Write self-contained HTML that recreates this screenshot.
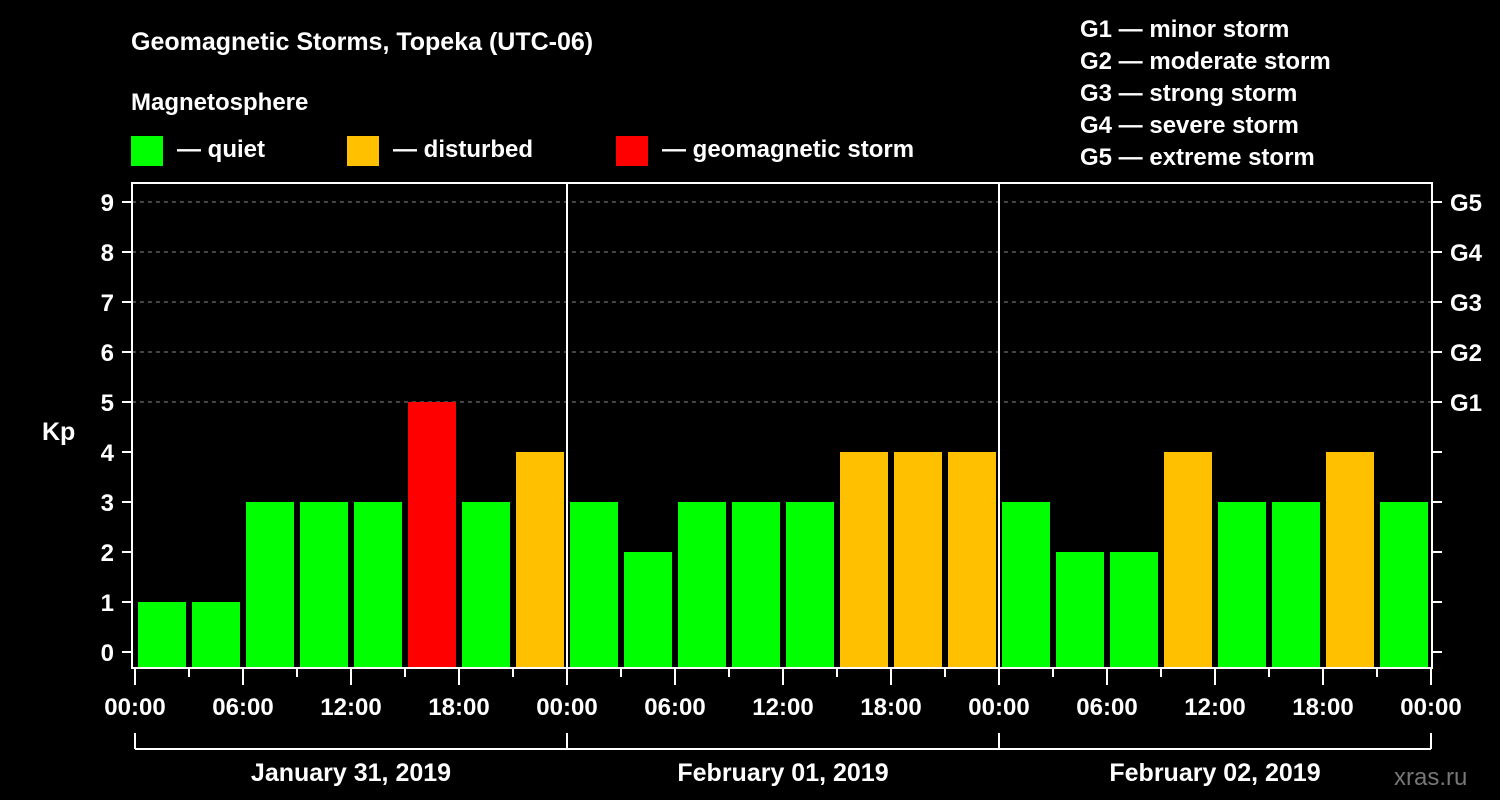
<!DOCTYPE html>
<html><head><meta charset="utf-8"><style>
body{margin:0;background:#000;}
svg{display:block;font-family:"Liberation Sans",Arial,sans-serif;font-weight:bold;}
</style></head><body>
<svg id="c" width="1500" height="800" viewBox="0 0 1500 800">
<rect width="1500" height="800" fill="#000"/>
<text x="131" y="50" font-size="25" fill="#fff">Geomagnetic Storms, Topeka (UTC-06)</text>
<text x="131" y="110" font-size="24" fill="#fff">Magnetosphere</text>
<g><rect x="131" y="136" width="32" height="30" fill="#00ff00"/><text x="177" y="157" font-size="24" fill="#fff">— quiet</text></g>
<g><rect x="347" y="136" width="32" height="30" fill="#ffc000"/><text x="393" y="157" font-size="24" fill="#fff">— disturbed</text></g>
<g><rect x="616" y="136" width="32" height="30" fill="#ff0000"/><text x="662" y="157" font-size="24" fill="#fff">— geomagnetic storm</text></g>
<g font-size="24" fill="#fff">
<text x="1080" y="37">G1 — minor storm</text><text x="1080" y="69">G2 — moderate storm</text><text x="1080" y="101">G3 — strong storm</text><text x="1080" y="133">G4 — severe storm</text><text x="1080" y="165">G5 — extreme storm</text></g>
<text x="42" y="440" font-size="25" fill="#fff">Kp</text>
<text x="1394" y="785" font-size="24" fill="#777" font-weight="normal">xras.ru</text>
<g id="grid"></g><g id="bars"></g><g id="axes"></g>
</svg>
<script>
const kpValues=[1,1,3,3,3,5,3,4, 3,2,3,3,3,4,4,4, 3,2,2,4,3,3,4,3];
const yTicks=[0,1,2,3,4,5,6,7,8,9];
const gLabels=["G1","G2","G3","G4","G5"];
const timeLabels=["00:00","06:00","12:00","18:00","00:00","06:00","12:00","18:00","00:00","06:00","12:00","18:00","00:00"];
const dayLabels=["January 31, 2019","February 01, 2019","February 02, 2019"];
const NS="http://www.w3.org/2000/svg";
const X0=135,STEP=54,Y0=652,YU=50,TOP=183,BOT=668,LEFT=132,RIGHT=1432;
const x=i=>X0+i*STEP, y=v=>Y0-v*YU;
function mk(p,t,a){const e=document.createElementNS(NS,t);for(const k in a)e.setAttribute(k,a[k]);p.appendChild(e);return e;}
const grid=document.getElementById('grid'),bars=document.getElementById('bars'),axes=document.getElementById('axes');
yTicks.forEach(v=>{if(v>=5){const l=mk(grid,'line',{x1:LEFT,x2:RIGHT,y1:y(v),y2:y(v),stroke:'#888','stroke-dasharray':'4,4','stroke-width':1});

}});
kpValues.forEach((v,i)=>{const c=v>=5?'#ff0000':v>=4?'#ffc000':'#00ff00';
const r=mk(bars,'rect',{x:x(i)+3,y:y(v),width:48,height:BOT-y(v),fill:c});

});
mk(axes,'rect',{x:LEFT,y:TOP,width:RIGHT-LEFT,height:BOT-TOP,fill:'none',stroke:'#fff','stroke-width':2});
[8,16].forEach(i=>mk(axes,'line',{x1:x(i),x2:x(i),y1:TOP,y2:BOT,stroke:'#fff','stroke-width':2}));
yTicks.forEach(v=>{mk(axes,'line',{x1:122,x2:LEFT,y1:y(v),y2:y(v),stroke:'#fff','stroke-width':2});
mk(axes,'line',{x1:RIGHT,x2:1442,y1:y(v),y2:y(v),stroke:'#fff','stroke-width':2});
const t=mk(axes,'text',{x:114,y:y(v)+9,'font-size':24,fill:'#fff','text-anchor':'end'});t.textContent=v;

});
gLabels.forEach((g,i)=>{const t=mk(axes,'text',{x:1450,y:y(5+i)+9,'font-size':24,fill:'#fff'});t.textContent=g;

});
for(let i=0;i<=24;i++)mk(axes,'line',{x1:x(i),x2:x(i),y1:BOT,y2:i%2==0?685:677,stroke:'#fff','stroke-width':2});
timeLabels.forEach((s,i)=>{const t=mk(axes,'text',{x:x(i*2),y:715,'font-size':24,fill:'#fff','text-anchor':'middle'});t.textContent=s;

});
mk(axes,'line',{x1:x(0),x2:x(24),y1:749,y2:749,stroke:'#fff','stroke-width':2});
[0,8,16,24].forEach(i=>mk(axes,'line',{x1:x(i),x2:x(i),y1:733,y2:749,stroke:'#fff','stroke-width':2}));
dayLabels.forEach((s,i)=>{const t=mk(axes,'text',{x:x(i*8+4),y:781,'font-size':25,fill:'#fff','text-anchor':'middle'});t.textContent=s;

});
</script>
</body></html>
